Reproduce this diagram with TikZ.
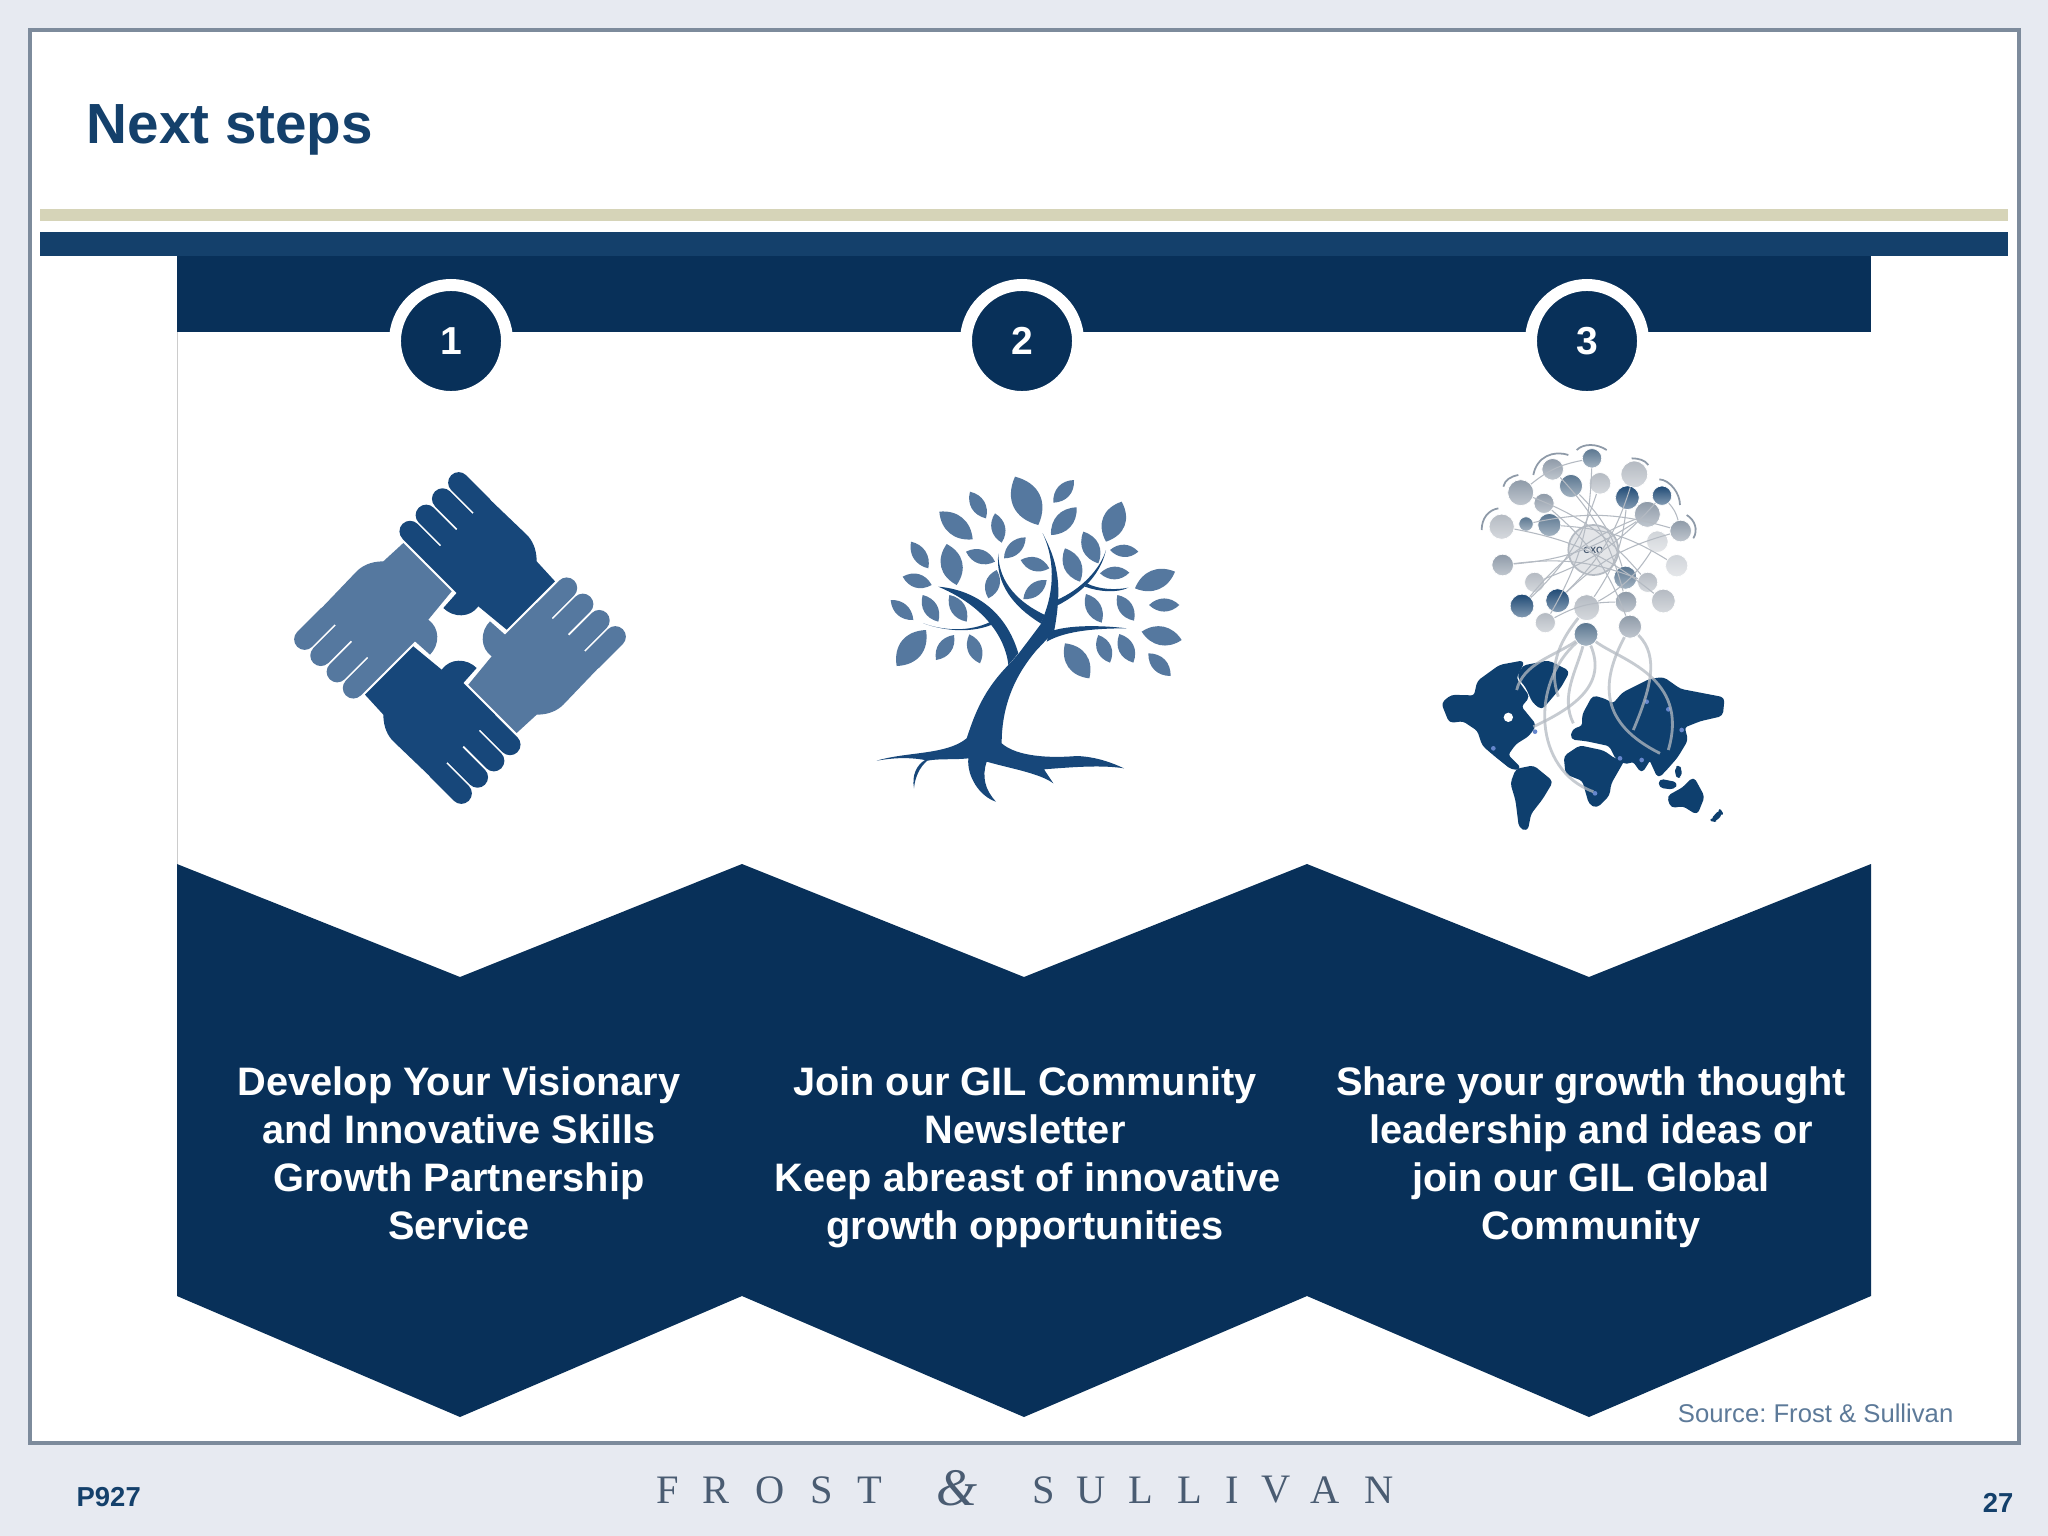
\documentclass[tikz,border=0pt]{standalone}
\usepackage{fontspec}
\setmainfont{Liberation Sans}
\newfontfamily\logofont{Liberation Serif}
\usepackage{tikz}
\usetikzlibrary{calc}

\definecolor{pagegrey}{HTML}{E7EAF1}
\definecolor{framegrey}{HTML}{7D8B9C}
\definecolor{tanbar}{HTML}{D6D4B8}
\definecolor{topbar}{HTML}{14406B}
\definecolor{navy}{HTML}{083059}
\definecolor{titleblue}{HTML}{14406B}
\definecolor{handdark}{HTML}{17477A}
\definecolor{handlight}{HTML}{55789F}
\definecolor{leafblue}{HTML}{55789F}
\definecolor{sourceblue}{HTML}{5D7A99}
\definecolor{logogrey}{HTML}{4A5C72}
\definecolor{mapblue}{HTML}{0E3F6E}
\definecolor{netnavy}{HTML}{1F4A75}
\definecolor{netslate}{HTML}{5A7690}
\definecolor{netmid}{HTML}{8E9AA8}
\definecolor{netpale}{HTML}{B4BAC2}
\definecolor{netwhite}{HTML}{D0D4D9}

\tikzset{
    stepball/.style={circle,draw=white,line width=3.4pt,fill=navy,inner sep=0pt,
        minimum size=1.12cm,text=white,font=\bfseries\fontsize{11.1pt}{13pt}\selectfont},
    steptext/.style={align=center,text=white,inner sep=0pt,
        font=\bfseries\fontsize{11.3pt}{13.65pt}\selectfont},
    netball/.style={circle,inner sep=0pt,draw=white,line width=0.2pt},
    netline/.style={draw=netpale,line width=0.3pt},
    netarc/.style={draw=netmid,line width=0.5pt},
    mapcurve/.style={draw=netpale,line width=0.8pt,opacity=0.75},
    land/.style={fill=mapblue,draw=mapblue,line width=0.7pt,line join=round,rounded corners=1pt},
}

\begin{document}
\frenchspacing
\begin{tikzpicture}[x=0.01cm,y=-0.01cm]
    \useasboundingbox (0,0) rectangle (2048,1536);

    % Draw slide
    \fill[pagegrey] (0,0) rectangle (2048,1536);
    \draw[framegrey,line width=1.1pt,fill=white] (30,30) rectangle (2019,1443);
    \fill[tanbar] (40,209) rectangle (2008,221);
    \fill[topbar] (40,232) rectangle (2008,256);

    \node[anchor=base west,inner sep=0pt,text=titleblue,font=\bfseries\fontsize{16.1pt}{18pt}\selectfont] (title) at (86,143) {Next steps};

    % Draw banners
    \draw[gray!40,line width=0.2pt] (177,332) -- (177,864);
    \fill[navy] (177,256) rectangle (1871,332);
    \foreach \xa/\xm/\xb in {177/460/742,742/1024/1307,1307/1589/1871}{
        \fill[navy] (\xa,864) -- (\xm,977) -- (\xb,864) -- (\xb,1296) -- (\xm,1417) -- (\xa,1296) -- cycle;
    }

    \node[stepball] (ball1) at (451,341) {1};
    \node[stepball] (ball2) at (1022,341) {2};
    \node[stepball] (ball3) at (1587,341) {3};

    \node[steptext] (text1) at (459,1153) {Develop Your Visionary\\and Innovative Skills\\Growth Partnership\\Service};
    \node[steptext] (text2) at (1025,1157.5) {Join our GIL Community\\Newsletter\\\hspace{1.6pt}Keep abreast of innovative\\growth opportunities};
    \node[steptext] (text3) at (1591,1157.5) {Share your growth thought\\leadership and ideas or\\join our GIL Global\\Community};

    % Draw hands
    \foreach \ang/\col in {0/handdark,-90/handlight,180/handdark,90/handlight}{
        \begin{scope}[shift={(460,638)},rotate=\ang,scale=1/3]
            \fill[\col] (-10,-135) -- (-105,-230) -- (85,-420) -- (200,-310)
                .. controls (215,-295) and (230,-270) .. (230,-230)
                -- (285,-170) -- (140,-25) -- (55,-95)
                .. controls (30,-60) and (-20,-60) .. (-50,-90) -- cycle;
            \foreach \xa/\ya/\xb/\yb in {-4/-466/66/-396,-52.5/-417.5/17.5/-347.5,-101.5/-368.5/-31.5/-298.5,-150/-320/-80/-250}{
                \draw[\col,line width=6pt,line cap=round] (\xa,\ya) -- (\xb,\yb);
            }
        \end{scope}
    }

    % Draw tree
    \begin{scope}[shift={(850,450)},scale=1/3]
        \foreach \xa/\ya/\xb/\yb/\w in {495/80/565/225/42,672/90/610/158/36,680/172/603/255/36,815/155/768/275/42,
            360/125/408/205/36,268/185/368/268/36,435/190/455/278/36,527/262/462/325/34,183/275/235/355/34,
            290/282/320/405/40,348/305/435/335/36,440/360/415/445/38,512/330/598/355/36,590/390/520/447/34,
            700/245/745/340/38,645/295/690/395/38,780/300/865/305/34,750/370/838/368/34,855/415/975/365/36,
            158/380/245/405/36,122/450/190/510/34,218/435/265/515/36,298/435/350/515/36,708/432/755/518/36,
            802/435/852/512/36,897/465/988/465/34,228/540/140/648/40,312/555/258/630/36,358/553/390/640/36,
            645/580/718/685/40,745/555/780/638/38,808/552/850/638/38,875/545/995/570/36,895/610/962/678/36}{
            \pgfmathsetmacro{\px}{-(\yb-\ya)*\w*0.0085}
            \pgfmathsetmacro{\py}{(\xb-\xa)*\w*0.0085}
            \pgfmathsetmacro{\xc}{\xa+0.3*(\xb-\xa)}
            \pgfmathsetmacro{\yc}{\ya+0.3*(\yb-\ya)}
            \pgfmathsetmacro{\xd}{\xa+0.7*(\xb-\xa)}
            \pgfmathsetmacro{\yd}{\ya+0.7*(\yb-\ya)}
            \fill[leafblue] (\xa,\ya)
                .. controls (\xc+\px,\yc+\py) and (\xd+\px,\yd+\py) .. (\xb,\yb)
                .. controls (\xd-\px,\yd-\py) and (\xc-\px,\yc-\py) .. (\xa,\ya) -- cycle;
        }
        \fill[handdark] (265,410) .. controls (380,420) and (470,490) .. (505,610) -- (475,645)
            .. controls (470,590) and (430,480) .. (265,410) -- cycle;
        \fill[handdark] (220,520) .. controls (290,545) and (370,545) .. (432,510) -- (435,520)
            .. controls (370,550) and (290,545) .. (220,520) -- cycle;
        \fill[handdark] (578,250) .. controls (620,330) and (640,400) .. (612,545) -- (572,520)
            .. controls (610,440) and (620,340) .. (578,250) -- cycle;
        \fill[handdark] (445,310) .. controls (445,400) and (510,460) .. (585,495) -- (572,520)
            .. controls (490,470) and (435,400) .. (445,310) -- cycle;
        \fill[handdark] (768,300) .. controls (750,360) and (690,420) .. (620,450) -- (625,465)
            .. controls (690,430) and (750,380) .. (768,300) -- cycle;
        \fill[handdark] (710,400) .. controls (750,420) and (800,420) .. (835,413)
            .. controls (800,430) and (745,425) .. (705,410) -- cycle;
        \fill[handdark] (830,535) .. controls (750,525) and (650,525) .. (600,545) -- (590,575)
            .. controls (650,540) and (750,535) .. (830,535) -- cycle;
        \fill[handdark] (80,932) .. controls (170,905) and (290,915) .. (350,865)
            .. controls (375,790) and (400,720) .. (480,640)
            -- (505,612) -- (578,515) -- (612,545) -- (560,600)
            .. controls (500,670) and (455,760) .. (455,880)
            .. controls (500,920) and (600,925) .. (680,918)
            .. controls (740,920) and (790,940) .. (822,955)
            .. controls (760,945) and (680,950) .. (582,958)
            -- (610,1000)
            .. controls (570,970) and (480,955) .. (410,935)
            .. controls (395,980) and (405,1020) .. (438,1055)
            .. controls (390,1040) and (350,980) .. (355,925)
            .. controls (310,930) and (270,925) .. (232,932)
            .. controls (210,950) and (195,980) .. (192,1015)
            .. controls (185,975) and (200,945) .. (225,930)
            .. controls (170,920) and (120,925) .. (80,932) -- cycle;
    \end{scope}

    % Draw map
    \begin{scope}[shift={(1420,430)},scale=1/3]
        \fill[land] (68,820) -- (95,798) -- (165,800) -- (175,755) -- (240,708) -- (310,695) -- (285,745) -- (325,800) -- (300,830)
            -- (345,885) -- (325,915) -- (285,940) -- (260,975) -- (300,1015) -- (275,1015) -- (225,975) -- (190,945)
            -- (175,900) -- (130,870) -- (90,875) -- cycle;
        \fill[land] (310,710) -- (385,695) -- (445,725) -- (420,770) -- (365,835) -- (340,815) -- (320,770) -- (295,740) -- cycle;
        \fill[land] (290,1020) -- (340,1010) -- (395,1055) -- (365,1105) -- (330,1150) -- (320,1200) -- (300,1190) -- (290,1110) -- (275,1060) -- cycle;
        \fill[land] (490,855) -- (520,800) -- (555,810) -- (580,825) -- (610,790) -- (690,750) -- (730,745) -- (780,780) -- (910,805) -- (905,855)
            -- (840,870) -- (790,890) -- (800,930) -- (770,980) -- (735,1020) -- (715,1040) -- (690,985) -- (665,1025) -- (640,990)
            -- (620,1000) -- (590,985) -- (570,945) -- (500,930) -- (455,925) -- (460,900) -- (490,890) -- cycle;
        \fill[land] (435,980) -- (480,950) -- (550,965) -- (585,990) -- (610,990) -- (570,1060) -- (565,1095) -- (530,1130) -- (510,1120) -- (490,1050) -- (440,1030) -- cycle;
        \fill[land] (745,1100) -- (790,1075) -- (820,1045) -- (850,1100) -- (830,1150) -- (790,1125) -- (755,1130) -- cycle;
        \fill[land] (720,1050) -- (770,1060) -- (760,1075) -- (720,1070) -- cycle;
        \fill[land] (770,1010) -- (782,1015) -- (780,1042) -- (768,1035) -- cycle;
        \fill[land] (875,1170) -- (900,1142) -- (905,1150) -- (885,1172) -- cycle;
        \fill[white] (265,862) circle (14);
        \foreach \xp/\yp in {220/955,680/815,745/838,665/990,525/1090,785/900,345/905,600/985}{
            \fill[white!60!cyan!60!blue] (\xp,\yp) circle (7);
        }

        % network
        \foreach \xp/\yp/\r/\c [count=\i] in {516/85/27/netslate,398/118/30/netmid,302/188/36/netmid,372/220/28/netmid,453/168/32/netslate,
            540/160/30/netpale,643/133/37/netpale,622/203/33/netnavy,726/197/27/netnavy,682/253/36/netmid,782/303/30/netmid,
            712/335/30/netwhite,770/407/31/netwhite,245/290/35/netpale,318/282/20/netslate,388/285/32/netslate,248/405/30/netmid,
            344/457/28/netpale,413/512/33/netnavy,306/528/33/netnavy,376/578/28/netpale,500/533/36/netpale,498/613/33/netslate,
            630/590/32/netmid,616/443/32/netslate,683/457/28/netpale,618/516/30/netmid,730/513/33/netpale}{
            \node[netball,top color=\c,bottom color=\c!55!white,minimum size=\r*0.0072cm] (n\i) at (\xp,\yp) {};
        }
        \node[circle,inner sep=0pt,draw=netpale,line width=0.5pt,fill=netwhite!60!white,minimum size=0.5cm,text=logogrey,
            font=\bfseries\fontsize{2.6pt}{3pt}\selectfont] (cxo) at (520,360) {CXO};

        \foreach \a/\b in {3/26,1/21,5/25,7/19,10/17,14/28,12/22,9/18,2/27,6/20,16/13,15/11,8/22,4/24,17/26,19/11,20/10,21/27,3/1,9/11}{
            \draw[netline] (n\a) to[bend left=14] (n\b);
        }
        \draw[netarc] (340,135) .. controls (350,80) and (400,60) .. (445,75);
        \draw[netarc] (470,60) .. controls (490,40) and (530,40) .. (560,60);
        \draw[netarc] (250,170) .. controls (255,150) and (270,140) .. (295,135);
        \draw[netarc] (185,300) .. controls (185,265) and (205,240) .. (235,235);
        \draw[netarc] (718,148) .. controls (750,150) and (780,190) .. (780,225);
        \draw[netarc] (800,255) .. controls (825,270) and (835,300) .. (820,325);
        \draw[netarc] (635,85) .. controls (655,85) and (675,90) .. (685,105);

        % curves to the map
        \coordinate (c1) at (340,890);
        \coordinate (c2) at (520,1085);
        \coordinate (c3) at (290,780);
        \coordinate (c4) at (415,800);
        \coordinate (c5) at (720,970);
        \coordinate (c6) at (745,960);
        \coordinate (c7) at (640,900);
        \coordinate (c8) at (460,880);
        \draw[mapcurve] (n23) .. controls (560,760) and (470,830) .. (c1);
        \draw[mapcurve] (n23) .. controls (330,760) and (340,1020) .. (c2);
        \draw[mapcurve] (n23) .. controls (400,680) and (310,700) .. (c3);
        \draw[mapcurve] (n22) .. controls (430,620) and (380,700) .. (c4);
        \draw[mapcurve] (n24) .. controls (540,760) and (540,880) .. (c5);
        \draw[mapcurve] (n23) .. controls (600,690) and (810,740) .. (c6);
        \draw[mapcurve] (n24) .. controls (720,680) and (690,780) .. (c7);
        \draw[mapcurve] (n23) .. controls (470,720) and (420,800) .. (c8);
    \end{scope}

    % Draw footer
    \node[anchor=east,inner sep=0pt,text=sourceblue,font=\fontsize{7.3pt}{9pt}\selectfont] (source) at (1954,1413) {Source: Frost \& Sullivan};
    \node[anchor=west,inner sep=0pt,text=titleblue,font=\bfseries\fontsize{7.8pt}{9pt}\selectfont] (code) at (76,1497) {P927};
    \node[anchor=east,inner sep=0pt,text=titleblue,font=\bfseries\fontsize{7.8pt}{9pt}\selectfont] (page) at (2014,1503) {27};

    \foreach \lettr/\xpos [count=\i] in {F/668,R/716,O/770,S/822,T/870,S/1044,U/1091,L/1141,L/1190,I/1232,V/1276,A/1325,N/1379}{
        \node[inner sep=0pt,text=logogrey,font=\logofont\fontsize{11.5pt}{13pt}\selectfont] (logo\i) at (\xpos,1490) {\lettr};
    }
    \node[inner sep=0pt,text=logogrey,font=\logofont\itshape\fontsize{15pt}{19pt}\selectfont] (logoand) at (957,1488) {\&};
\end{tikzpicture}
\end{document}
